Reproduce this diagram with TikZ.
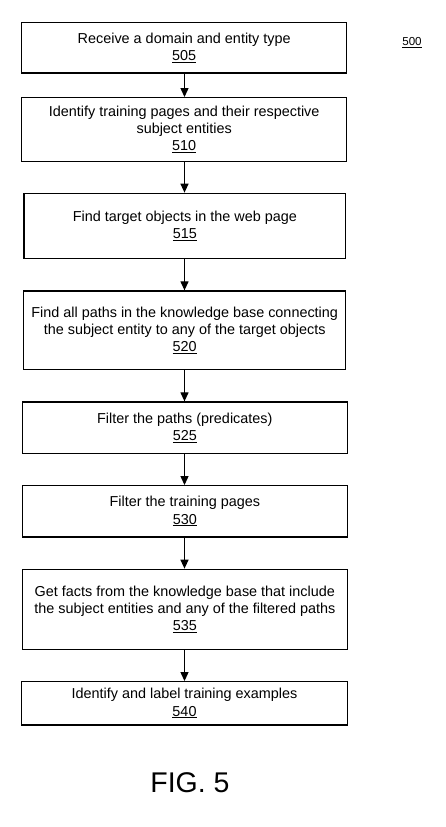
\documentclass[tikz,border=0pt]{standalone}
\usepackage{fontspec}
\setmainfont{Liberation Sans}
\usetikzlibrary{arrows.meta}
\begin{document}
\begin{tikzpicture}[x=1pt,y=-1pt,
  box/.style={draw=black, line width=1.3pt, align=center, inner sep=0pt,
    font=\fontsize{14.4}{17.2}\selectfont},
  arr/.style={line width=1.2pt, -{Triangle[length=9pt,width=8pt]}}]
\useasboundingbox (0,0) rectangle (445,827);
\node[box, minimum width=325pt, minimum height=50.7pt] (b505) at (184.2,47.65)
  {Receive a domain and entity type\\\underline{505}};
\node[box, minimum width=325pt, minimum height=63.6pt] (b510) at (184.2,129.5)
  {Identify training pages and their respective\\subject entities\\\underline{510}};
\node[box, minimum width=321.7pt, minimum height=65pt] (b515) at (184.85,225.8)
  {Find target objects in the web page\\\underline{515}};
\node[box, minimum width=322pt, minimum height=78.7pt] (b520) at (184.7,330.35)
  {Find all paths in the knowledge base connecting\\the subject entity to any of the target objects\\\underline{520}};
\node[box, minimum width=325pt, minimum height=51.3pt] (b525) at (184.8,427.65)
  {Filter the paths (predicates)\\\underline{525}};
\node[box, minimum width=325pt, minimum height=51.3pt] (b530) at (184.8,511.35)
  {Filter the training pages\\\underline{530}};
\node[box, minimum width=325pt, minimum height=80pt] (b535) at (184.8,609.3)
  {Get facts from the knowledge base that include\\the subject entities and any of the filtered paths\\\underline{535}};
\node[box, minimum width=325.6pt, minimum height=43.3pt] (b540) at (184.5,703.35)
  {Identify and label training examples\\\underline{540}};
\node[font=\fontsize{11.6}{14}\selectfont, inner sep=0pt] (lbl) at (412,43) {\underline{500}};
\node[font=\fontsize{28.5}{34}\selectfont, inner sep=0pt] (fig) at (190,782.7) {FIG. 5};
\foreach \a/\b in {b505/b510,b510/b515,b515/b520,b520/b525,b525/b530,b530/b535,b535/b540}
  \draw[arr] (\a.south -| b540.center) -- (\b.north -| b540.center);
\end{tikzpicture}
\end{document}
